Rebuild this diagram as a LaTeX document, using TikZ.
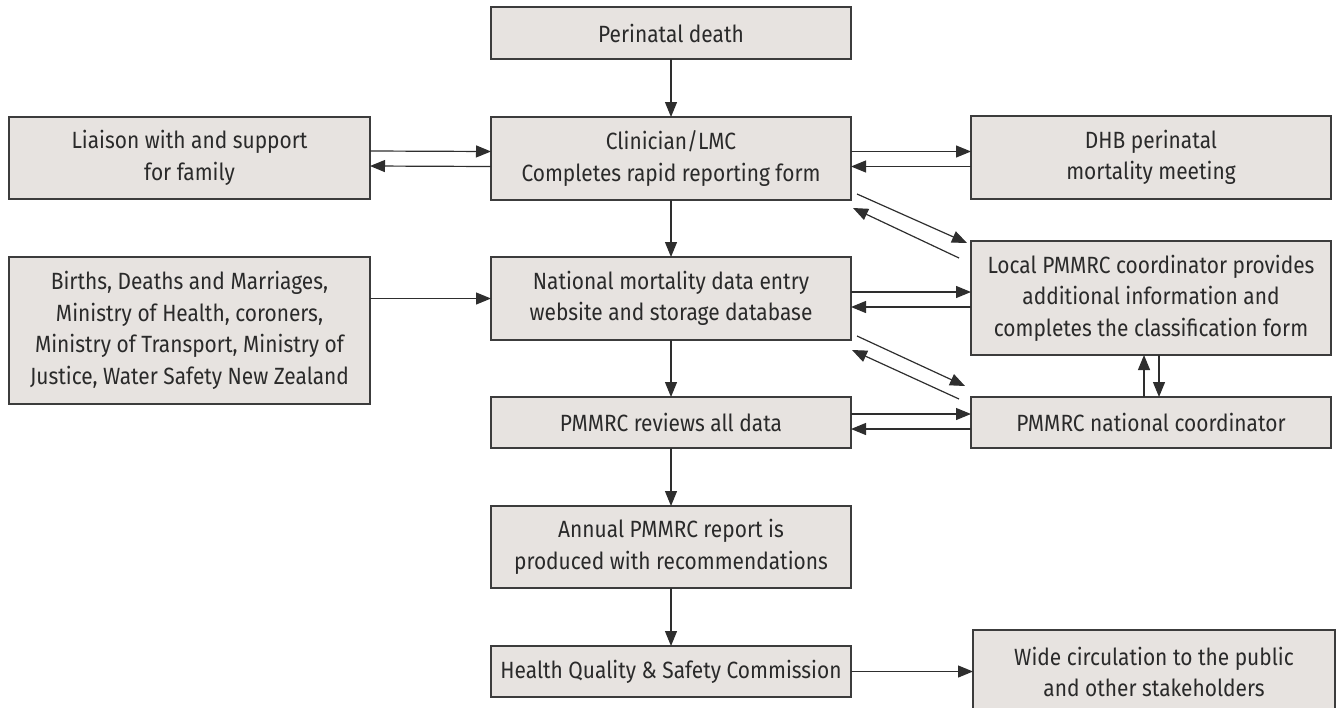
\documentclass[tikz,border=0pt]{standalone}
\usepackage{fontspec}
\setmainfont{Fira Sans}[FakeStretch=0.89]
\usetikzlibrary{arrows.meta,calc}
\definecolor{boxfill}{HTML}{E7E3E0}
\definecolor{boxline}{HTML}{3C3C3C}
\definecolor{txt}{HTML}{2A2A2A}
\definecolor{arrc}{HTML}{2E2E2E}
\tikzset{
  box/.style={draw=boxline, fill=boxfill, line width=1.5pt, inner sep=0pt, outer sep=0pt,
    align=center, text=txt, font=\fontsize{23.5pt}{31.5pt}\selectfont, minimum width=360pt},
  arr/.style={draw=arrc, line width=1.2pt, -{Triangle[length=15pt,width=12pt]}}
}
\begin{document}
\begin{tikzpicture}[x=1pt,y=-1pt]
\useasboundingbox (0,0) rectangle (1338,707);
\node[box, minimum height=52pt] (death) at (671,33) {Perinatal death};
\node[box, minimum height=83pt] (clin) at (671,158.5) {Clinician/LMC\\Completes rapid reporting form};
\node[box, minimum width=361pt, minimum height=82pt] (liaison) at (189.5,158) {Liaison with and support\\for family};
\node[box, minimum height=83pt] (dhb) at (1151,157.5) {DHB perinatal\\mortality meeting};
\node[box, minimum width=361pt, minimum height=147pt] (births) at (189.5,330.5) {Births, Deaths and Marriages,\\Ministry of Health, coroners,\\Ministry of Transport, Ministry of\\Justice, Water Safety New Zealand};
\node[box, minimum height=83pt] (natl) at (671,298.5) {National mortality data entry\\website and storage database};
\node[box, minimum height=114pt] (local) at (1151,298) {Local PMMRC coordinator provides\\additional information and\\completes the classification form};
\node[box, minimum height=51pt] (reviews) at (671,422.5) {PMMRC reviews all data};
\node[box, minimum height=51pt] (ncoord) at (1151,422.5) {PMMRC national coordinator};
\node[box, minimum height=82pt] (annual) at (671,547) {Annual PMMRC report is\\produced with recommendations};
\node[box, minimum height=51pt] (hqsc) at (671,671.5) {Health Quality \& Safety Commission};
\node[box, minimum width=362pt, minimum height=84pt] (wide) at (1154,672) {Wide circulation to the public\\and other stakeholders};

% vertical flow
\draw[arr] (death) -- (clin);
\draw[arr] (clin) -- (natl);
\draw[arr] (natl) -- (reviews);
\draw[arr] (reviews) -- (annual);
\draw[arr] (annual) -- (hqsc);

% liaison <-> clinician
\draw[arr] ([yshift=7pt]liaison.east) -- ([yshift=7pt]clin.west);
\draw[arr] ([yshift=-8pt]clin.west) -- ([yshift=-8pt]liaison.east);
% clinician <-> DHB
\draw[arr] ([yshift=7pt]clin.east) -- ([yshift=7pt]clin.east -| dhb.west);
\draw[arr] ([yshift=-8pt]clin.east -| dhb.west) -- ([yshift=-8pt]clin.east);
% births -> national
\draw[arr] (births.east |- natl.east) -- (natl.west);
% national <-> local
\path ([yshift=6.5pt]natl.east) coordinate (nl1) ([yshift=-8.5pt]natl.east) coordinate (nl2);
\draw[arr] (nl1) -- (local.west |- nl1);
\draw[arr] (local.west |- nl2) -- (nl2);
% reviews <-> national coordinator
\draw[arr] ([yshift=8.5pt]reviews.east) -- ([yshift=8.5pt]ncoord.west);
\draw[arr] ([yshift=-6.5pt]ncoord.west) -- ([yshift=-6.5pt]reviews.east);
% national coordinator <-> local
\draw[arr] ([xshift=-7pt]ncoord.north) -- ([xshift=-7pt]local.south);
\draw[arr] ([xshift=8pt]local.south) -- ([xshift=8pt]ncoord.north);
% HQSC -> wide
\draw[arr] (hqsc.east) -- (wide.west |- hqsc.east);

% diagonals
\coordinate (d1s) at (857,194); \coordinate (d1e) at (967,243);
\coordinate (d2s) at (959,258); \coordinate (d2e) at (853,208);
\coordinate (d3s) at (857,336); \coordinate (d3e) at (965,386);
\coordinate (d4s) at (959,399); \coordinate (d4e) at (852,350);
\draw[arr] (d1s) -- (d1e);
\draw[arr] (d2s) -- (d2e);
\draw[arr] (d3s) -- (d3e);
\draw[arr] (d4s) -- (d4e);
\end{tikzpicture}
\end{document}
